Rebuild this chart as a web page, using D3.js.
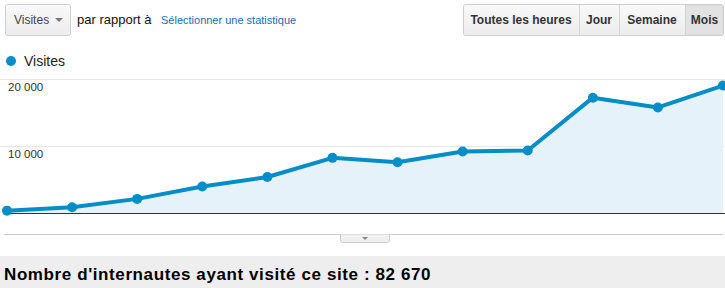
<!DOCTYPE html>
<html>
<head>
<meta charset="utf-8">
<script src="https://cdn.jsdelivr.net/npm/d3@7"></script>
<style>
  body { margin: 0; background: #fff; }
  svg { display: block; font-family: "Liberation Sans", Arial, sans-serif; }
</style>
</head>
<body>
<div id="chart"></div>
<script>
// monthly visits
const months = ["mai", "juin", "juil.", "août", "sept.", "oct.", "nov.", "déc.", "janv.", "févr.", "mars", "avr."];
const visits = [350, 850, 2100, 3950, 5350, 8200, 7550, 9150, 9300, 17150, 15700, 18950];
const yTicks = [10000, 20000];
const periods = ["Toutes les heures", "Jour", "Semaine", "Mois"];
const periodEdges = [463, 579, 619, 685, 724];
const metric = "Visites";
const total = "82 670";

const width = 725, height = 288;
const blue = "#058dc7";

let svg = d3.select("#chart").append("svg")
  .attr("width", width)
  .attr("height", height);

// --- top controls ---
let defs = svg.append("defs");
let grad = defs.append("linearGradient").attr("id", "btn").attr("x1", 0).attr("y1", 0).attr("x2", 0).attr("y2", 1);
grad.append("stop").attr("offset", "0%").attr("stop-color", "#f9f9f9");
grad.append("stop").attr("offset", "100%").attr("stop-color", "#ececec");

svg.append("rect")
  .attr("x", 5.5).attr("y", 4.5).attr("width", 65).attr("height", 31).attr("rx", 2)
  .attr("fill", "url(#btn)").attr("stroke", "#cfcfcf");
svg.append("text")
  .attr("x", 14).attr("y", 24)
  .attr("font-size", 12).attr("fill", "#444")
  .text(metric);
svg.append("path")
  .attr("d", "M55,18 L63,18 L59,22 Z")
  .attr("fill", "#777");

svg.append("text")
  .attr("x", 77).attr("y", 24)
  .attr("font-size", 13).attr("fill", "#111")
  .text("par rapport à");
svg.append("text")
  .attr("x", 161).attr("y", 24)
  .attr("font-size", 11).attr("fill", "#1a6bb8")
  .text("Sélectionner une statistique");

let btns = svg.append("g").attr("class", "periods");
btns.append("rect")
  .attr("x", 463.5).attr("y", 4.5).attr("width", 260).attr("height", 31).attr("rx", 2)
  .attr("fill", "url(#btn)").attr("stroke", "#cfcfcf");
btns.append("rect")
  .attr("x", 685).attr("y", 5).attr("width", 38).attr("height", 30)
  .attr("fill", "#dcdcdc");
btns.append("rect")
  .attr("x", 686).attr("y", 6).attr("width", 36).attr("height", 28)
  .attr("fill", "#e2e2e2");
btns.selectAll("line.sep")
  .data(periodEdges.slice(1, -1))
  .enter().append("line")
  .attr("class", "sep")
  .attr("x1", d => d + 0.5).attr("x2", d => d + 0.5)
  .attr("y1", 5).attr("y2", 35)
  .attr("stroke", "#d4d4d4");
btns.selectAll("text")
  .data(periods)
  .enter().append("text")
  .attr("x", (d, i) => (periodEdges[i] + periodEdges[i + 1]) / 2)
  .attr("y", 24)
  .attr("text-anchor", "middle")
  .attr("font-size", 12).attr("font-weight", "bold")
  .attr("fill", "#333")
  .text(d => d);

// legend
svg.append("circle").attr("cx", 11).attr("cy", 61).attr("r", 5).attr("fill", blue);
svg.append("text")
  .attr("x", 24).attr("y", 66)
  .attr("font-size", 14).attr("fill", "#222")
  .text(metric);

// --- chart ---
let x = d3.scalePoint()
  .domain(months)
  .range([7, 723]);

let y = d3.scaleLinear()
  .domain([0, 20000])
  .range([213, 78.5]);

let grid = svg.append("g").attr("class", "grid");
grid.selectAll("line")
  .data(yTicks)
  .enter().append("line")
  .attr("x1", 0).attr("x2", width)
  .attr("y1", d => Math.round(y(d)) + 0.5).attr("y2", d => Math.round(y(d)) + 0.5)
  .attr("stroke", "#e6e6e6");
grid.selectAll("text")
  .data(yTicks)
  .enter().append("text")
  .attr("x", 8)
  .attr("y", d => y(d) + 12.5)
  .attr("font-size", 11.5).attr("fill", "#333")
  .text(d => d3.format(",")(d).replace(",", " "));

let area = d3.area()
  .x((d, i) => x(months[i]))
  .y0(y(0))
  .y1(d => y(d));

svg.append("path")
  .datum(visits)
  .attr("d", area)
  .attr("fill", "#e6f2f9");

svg.append("line")
  .attr("x1", 6).attr("x2", width)
  .attr("y1", y(0) + 0.5).attr("y2", y(0) + 0.5)
  .attr("stroke", "#333");

let line = d3.line()
  .x((d, i) => x(months[i]))
  .y(d => y(d));

svg.append("path")
  .datum(visits)
  .attr("d", line)
  .attr("fill", "none")
  .attr("stroke", blue)
  .attr("stroke-width", 4)
  .attr("stroke-linejoin", "round");

svg.selectAll("circle.pt")
  .data(visits)
  .enter().append("circle")
  .attr("class", "pt")
  .attr("cx", (d, i) => x(months[i]))
  .attr("cy", d => y(d))
  .attr("r", 5)
  .attr("fill", blue);

// --- footer ---
svg.append("line")
  .attr("x1", 4).attr("x2", 723)
  .attr("y1", 234.5).attr("y2", 234.5)
  .attr("stroke", "#cccccc");
svg.append("path")
  .attr("d", "M340.5,234.5 L340.5,240 Q340.5,242.5 343,242.5 L387,242.5 Q389.5,242.5 389.5,240 L389.5,234.5")
  .attr("fill", "#f0f0f0").attr("stroke", "#cccccc");
svg.append("path")
  .attr("d", "M362,237 L368,237 L365,240 Z")
  .attr("fill", "#888");

svg.append("rect")
  .attr("x", 0).attr("y", 256).attr("width", width).attr("height", height - 256)
  .attr("fill", "#eeeeee");
svg.append("text")
  .attr("x", 4).attr("y", 280)
  .attr("font-size", 17).attr("font-weight", "bold")
  .attr("letter-spacing", 0.6)
  .attr("fill", "#000")
  .text("Nombre d'internautes ayant visité ce site : " + total);
</script>
</body>
</html>
